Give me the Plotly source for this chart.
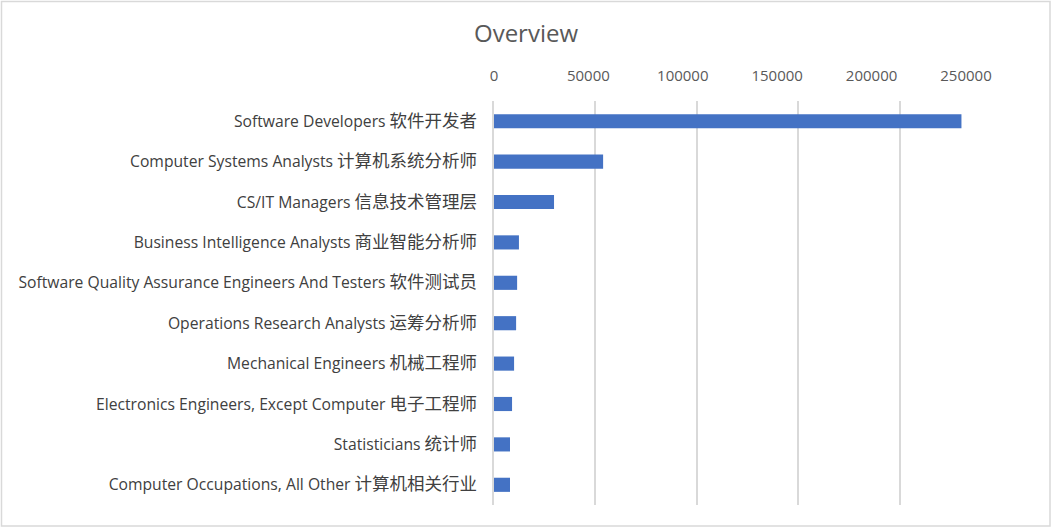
import re
import plotly.graph_objects as go

categories = [
    "Software Developers 软件开发者",
    "Computer Systems Analysts 计算机系统分析师",
    "CS/IT Managers 信息技术管理层",
    "Business Intelligence Analysts 商业智能分析师",
    "Software Quality Assurance Engineers And Testers 软件测试员",
    "Operations Research Analysts 运筹分析师",
    "Mechanical Engineers 机械工程师",
    "Electronics Engineers, Except Computer 电子工程师",
    "Statisticians 统计师",
    "Computer Occupations, All Other 计算机相关行业",
]
values = [230500, 53800, 29600, 12300, 11400, 10900, 9900, 8900, 7900, 7900]
tick_vals = [0, 50000, 100000, 150000, 200000, 250000]
tick_text = ["0", "50000", "100000", "150000", "200000", "250000"]

W, H = 1052, 528
L, R, T, B = 494, 1001, 101, 505

font_family = "'Open Sans', 'Noto Sans CJK SC', sans-serif"

# CJK part of each label is rendered a bit larger, as in the reference
def styled(label):
    return re.sub(r"([\u4e00-\u9fff]+)",
                  r'<span style="font-size:17.5px">\1</span>', label)

cat_text = [styled(c) for c in categories]

fig = go.Figure(go.Bar(
    x=values, y=categories, orientation="h",
    marker=dict(color="#4472C4", line=dict(width=0)),
))
# invisible trace bound to the label axis so it is drawn
fig.add_trace(go.Scatter(x=[0], y=[categories[0]], xaxis="x2", mode="markers",
                         marker=dict(opacity=0), hoverinfo="skip", showlegend=False))

def px_x(p):
    return (p - L) / (R - L)

def px_y(p):
    return (B - p) / (B - T)

# tick labels in the reference are spaced slightly tighter than the gridlines
label_span = 472.0
fig.update_layout(
    width=W, height=H,
    margin=dict(l=L, r=W - R, t=T, b=H - B, pad=0),
    paper_bgcolor="white", plot_bgcolor="white",
    bargap=0.65,
    showlegend=False,
    title=dict(text="Overview", x=0.5, xref="container", xanchor="center",
               y=1 - 34 / H, yref="container", yanchor="middle",
               font=dict(family=font_family, size=24, color="#595959")),
    xaxis=dict(range=[0, 250000], tickvals=tick_vals, showticklabels=False,
               showgrid=True, gridcolor="#d9d9d9", gridwidth=1.5,
               zeroline=False, showline=False, ticks=""),
    xaxis2=dict(overlaying="x", side="top",
                range=[0, 250000 * (R - L) / label_span],
                tickvals=tick_vals, ticktext=tick_text,
                showgrid=False, zeroline=False, showline=False, ticks="",
                ticklabelstandoff=16,
                tickfont=dict(family=font_family, size=15, color="#595959")),
    yaxis=dict(categoryorder="array", categoryarray=categories[::-1],
               range=[-0.5, len(categories) - 0.5],
               tickvals=categories, ticktext=cat_text,
               showgrid=False, zeroline=False, ticks="",
               showline=True, linecolor="#d9d9d9", linewidth=1.5,
               ticklabelstandoff=12,
               tickfont=dict(family=font_family, size=15.7, color="#404040")),
    shapes=[dict(type="rect", xref="paper", yref="paper",
                 x0=px_x(1.5), x1=px_x(1050), y0=px_y(526), y1=px_y(1.5),
                 line=dict(color="#d9d9d9", width=1.5), fillcolor="rgba(0,0,0,0)",
                 layer="below")],
)

fig.write_html("out.html")
